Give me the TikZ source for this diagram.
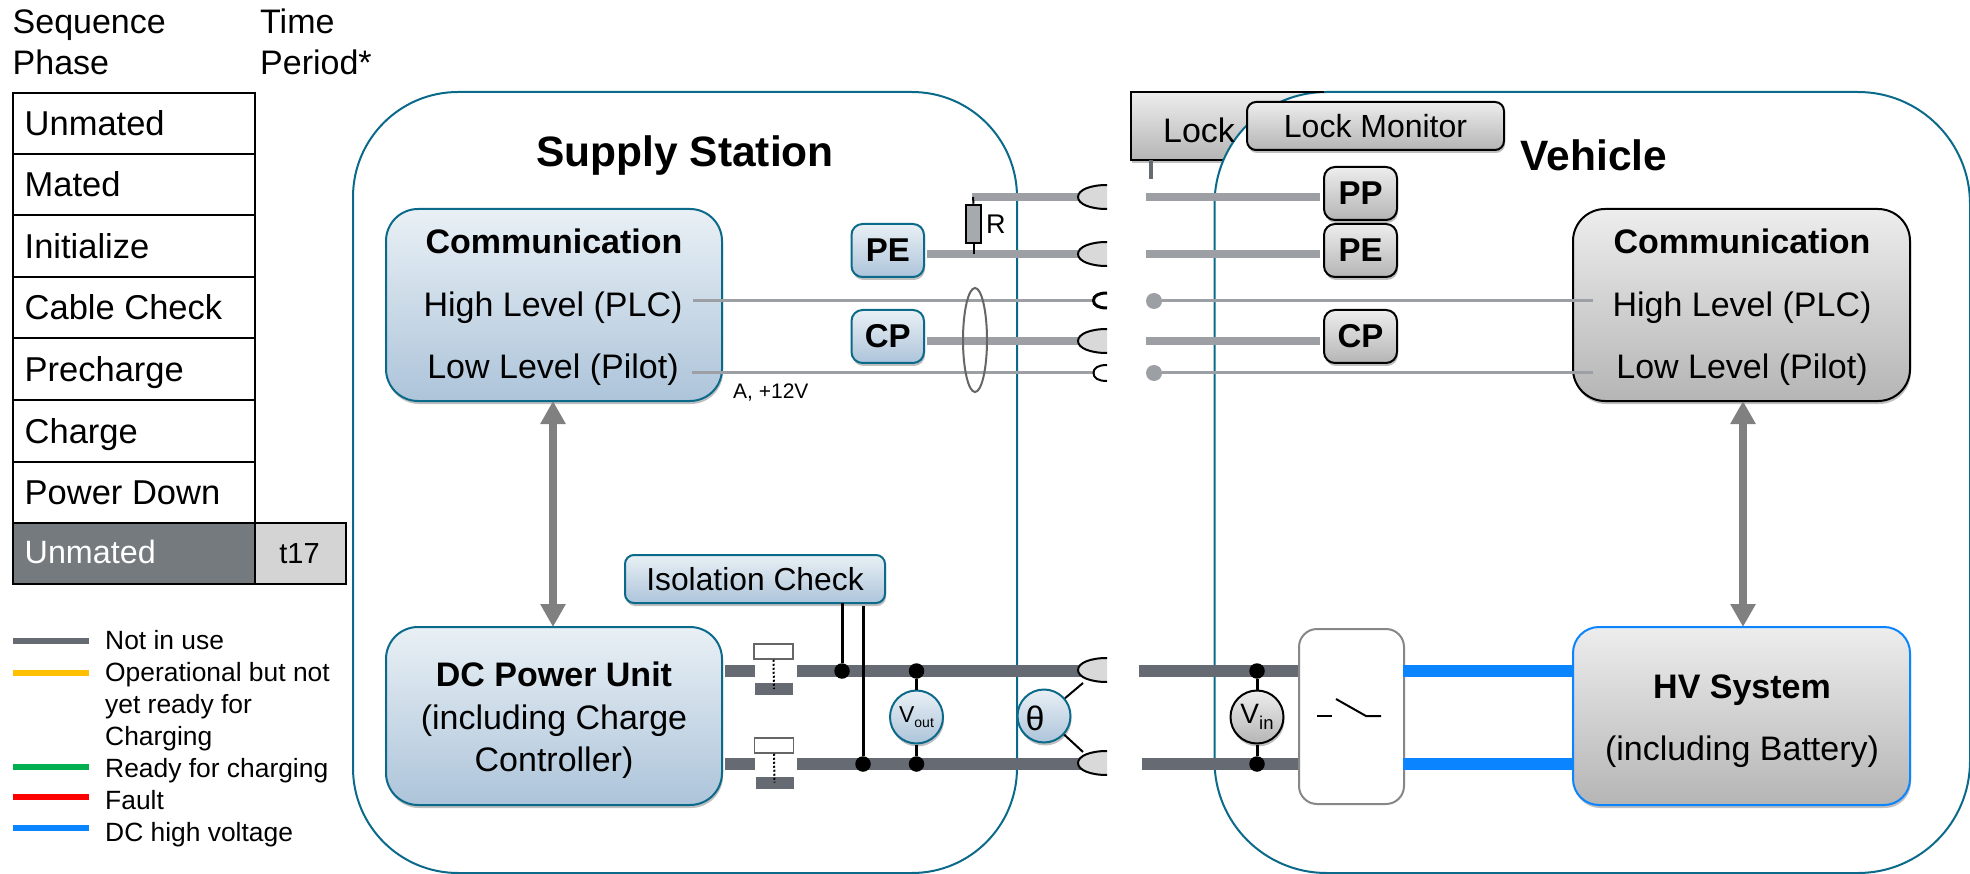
\documentclass[tikz,border=0pt]{standalone}
\usepackage{fontspec}
\setmainfont{Liberation Sans}
\usetikzlibrary{shadows,arrows.meta,calc,shapes.geometric}
\definecolor{teal}{HTML}{0B6A8A}
\definecolor{wire}{HTML}{9C9FA4}
\definecolor{power}{HTML}{666A72}
\definecolor{hv}{HTML}{0A84FF}
\definecolor{bluetop}{HTML}{E9F0F5}
\definecolor{bluebot}{HTML}{ADC4DA}
\definecolor{greytop}{HTML}{EDEDED}
\definecolor{greybot}{HTML}{B5B5B5}
\definecolor{rowgrey}{HTML}{747A7D}
\definecolor{legy}{HTML}{FFC000}
\definecolor{legg}{HTML}{00B050}
\definecolor{legr}{HTML}{FF0000}
\definecolor{arrowgrey}{HTML}{808080}
\newcommand{\fs}[1]{\fontsize{#1}{#1}\selectfont}
\newcommand{\dn}[1]{\raisebox{-1.2pt}{#1}}
\tikzset{
 x=1pt,y=-1pt,
 shad/.style={drop shadow={shadow xshift=1pt,shadow yshift=-3pt,opacity=.25,fill=black}},
 boxbase/.style={anchor=north west,inner sep=0,outer sep=0,line width=2pt,rounded corners=#1,shad},
 bluebox/.style={boxbase=#1,draw=teal,top color=bluetop,bottom color=bluebot},
 greybox/.style={boxbase=#1,draw=black,top color=greytop,bottom color=greybot},
 hvbox/.style={boxbase=#1,draw=hv,top color=greytop,bottom color=greybot},
 area/.style={draw=teal,line width=2pt,fill=white,rounded corners=#1},
 wirethick/.style={draw=wire,line width=8pt},
 wirethin/.style={draw=wire,line width=3pt},
 powerline/.style={draw=power,line width=12pt},
 hvline/.style={draw=hv,line width=12pt},
 conn/.style={draw=black,line width=2pt,fill=black!15},
 conns/.style={draw=black,line width=3pt},
 cell/.style={draw=black,line width=2pt,fill=white,minimum width=242pt,minimum height=61.5pt,anchor=north west,inner sep=0},
 celltxt/.style={anchor=base west,inner sep=0,font=\fs{34.5}},
 btxt/.style={anchor=base,inner sep=0,font=\fs{34}\bfseries},
 txt/.style={anchor=base,inner sep=0,font=\fs{34}},
 hdr/.style={anchor=base west,inner sep=0,font=\fs{34}},
 leg/.style={anchor=base west,inner sep=0,font=\fs{26.4}},
 legline/.style={line width=6pt},
 dotblk/.style={circle,fill=black,minimum size=15.5pt,inner sep=0},
 dotwire/.style={circle,fill=wire,minimum size=16pt,inner sep=0},
 bigarrow/.style={draw=arrowgrey,line width=8pt,{Triangle[length=23pt,width=24pt]}-{Triangle[length=23pt,width=24pt]}},
 meter/.style={circle,minimum size=53pt,inner sep=0,line width=2pt,shad},
 blk/.style={draw=black,line width=3pt},
}
\begin{document}
\begin{tikzpicture}
\useasboundingbox (0,0) rectangle (1970,874);
% headers
\node[hdr] (h1) at (12.5,33.5) {Sequence};
\node[hdr] (h2) at (12.5,74.5) {Phase};
\node[hdr] (h3) at (260,33.5) {Time};
\node[hdr] (h4) at (260,74.5) {Period*};
% table
\foreach \n/\y/\t in {a/92/Unmated,b/153/Mated,c/214.5/Initialize,d/276/Cable Check,e/337.5/Precharge,f/399/Charge,g/460.5/Power Down}{
 \node[cell] (c\n) at (12,\y) {};
 \node[celltxt] (t\n) at (24.5,\y+44) {\t};
}
\node[cell,fill=rowgrey,minimum height=61pt] (ch) at (12,522) {};
\node[celltxt,text=white,font=\fs{32.3}] (th) at (24.5,563) {Unmated};
\node[draw=black,line width=2pt,fill=black!17,minimum width=90.5pt,minimum height=61pt,anchor=north west,inner sep=0] (t17) at (254,522) {};
\node[anchor=base,inner sep=0,font=\fs{29}] (t17t) at (299.5,563) {t17};
% legend
\foreach \n/\y/\c in {l/641/power,m/673/legy,n/767/legg,o/797/legr,p/828/hv}{
 \coordinate (\n a) at (13,\y); \coordinate (\n b) at (89,\y);
 \draw[legline,\c] (\n a) -- (\n b);
}
\node[leg] (la) at (105,649) {Not in use};
\node[leg] (lb) at (105,681) {Operational but not};
\node[leg] (lc) at (105,713) {yet ready for};
\node[leg] (ld) at (105,745) {Charging};
\node[leg] (le) at (105,777) {Ready for charging};
\node[leg] (lf) at (105,809) {Fault};
\node[leg] (lg) at (105,841) {DC high voltage};
% lock behind vehicle
\node[boxbase=0pt,draw=black,top color=greytop,bottom color=greybot,minimum width=193pt,minimum height=68pt] (lock) at (1131,92) {};
% areas
\draw[area=105pt] (353,92) rectangle (1017,873);
\draw[area=112pt] (1214.5,92) rectangle (1970,873);
\coordinate (lockedge) at (1324,92);
\draw[black,line width=2pt] (lock.north west) -- (lockedge);
\node[txt] (locktxt) at (1199,143) {Lock};
\coordinate (ls) at (1151,160); \coordinate (le2) at (1151,179);
\draw[draw=power,line width=4pt] (ls) -- (le2);
\node[boxbase=9pt,draw=black,top color=greytop,bottom color=greybot,minimum width=257pt,minimum height=48pt,font=\fs{32}] (lockmon) at (1247,102) {\dn{Lock Monitor}};
% titles
\node[anchor=base,inner sep=0,font=\fs{42.5}\bfseries] (ss) at (685,167) {Supply Station};
\node[anchor=base,inner sep=0,font=\fs{42.5}\bfseries] (veh) at (1594,171) {Vehicle};
% main boxes
\node[bluebox=32pt,minimum width=336pt,minimum height=192pt] (commL) at (386,209) {};
\node[btxt] (cl1) at (554,253.5) {Communication};
\node[txt] (cl2) at (553,316.5) {High Level (PLC)};
\node[txt] (cl3) at (553,378.5) {Low Level (Pilot)};
\node[bluebox=32pt,minimum width=336pt,minimum height=178pt] (dcu) at (386,627) {};
\node[btxt] (dc1) at (554,686) {DC Power Unit};
\node[txt] (dc2) at (554,729) {(including Charge};
\node[txt] (dc3) at (554,771) {Controller)};
\node[greybox=32pt,minimum width=337pt,minimum height=192pt] (commR) at (1573,209) {};
\node[btxt] (cr1) at (1742,253.5) {Communication};
\node[txt] (cr2) at (1742,316.5) {High Level (PLC)};
\node[txt] (cr3) at (1742,378.5) {Low Level (Pilot)};
\node[hvbox=26pt,minimum width=337pt,minimum height=178pt] (hvs) at (1573,627) {};
\node[btxt] (hv1) at (1742,698) {HV System};
\node[txt] (hv2) at (1742,760) {(including Battery)};
% arrows
\draw[bigarrow] ([xshift=-1pt]commL.south) -- ([xshift=-1pt]dcu.north);
\draw[bigarrow] ([xshift=1.5pt]commR.south) -- ([xshift=1.5pt]hvs.north);
% small boxes
\node[bluebox=11pt,minimum width=72.5pt,minimum height=53pt,font=\fs{33}\bfseries] (pel) at (851.5,224) {\dn{PE}};
\node[bluebox=11pt,minimum width=72.5pt,minimum height=53pt,font=\fs{33}\bfseries] (cpl) at (851.5,310) {\dn{CP}};
\node[greybox=11pt,minimum width=73pt,minimum height=53pt,font=\fs{33}\bfseries] (ppr) at (1324,167) {\dn{PP}};
\node[greybox=11pt,minimum width=73pt,minimum height=53pt,font=\fs{33}\bfseries] (per) at (1324,224) {\dn{PE}};
\node[greybox=11pt,minimum width=73pt,minimum height=53pt,font=\fs{33}\bfseries] (cpr) at (1324,310) {\dn{CP}};
\node[bluebox=9pt,minimum width=260pt,minimum height=48pt,font=\fs{31.8}] (iso) at (625,555) {\dn{Isolation Check}};
% thick signal wires, left
\coordinate (ppa) at (972,197); \coordinate (ppb) at (1085,197);
\coordinate (pea) at (927,254); \coordinate (peb) at (1085,254);
\coordinate (cpa) at (927,341); \coordinate (cpb) at (1085,341);
\draw[wirethick] (ppa) -- (ppb);
\draw[wirethick] (pea) -- (peb);
\draw[wirethick] (cpa) -- (cpb);
% thick signal wires, right
\coordinate (ppc) at (1146,197); \coordinate (ppd) at (1320,197);
\coordinate (pec) at (1146,254); \coordinate (ped) at (1320,254);
\coordinate (cpc) at (1146,341); \coordinate (cpd) at (1320,341);
\draw[wirethick] (ppc) -- (ppd);
\draw[wirethick] (pec) -- (ped);
\draw[wirethick] (cpc) -- (cpd);
% resistor
\node[draw=black,line width=2.5pt,fill=wire!90!white,minimum width=15pt,minimum height=38pt,inner sep=0] (res) at (973.5,224) {};
\coordinate (rt) at (973,197); \coordinate (rb) at (973.5,254);
\draw[black,line width=2pt] (rt) -- (res.north);
\draw[black,line width=2pt] (res.south) -- (rb);
\node[anchor=base west,inner sep=0,font=\fs{27}] (rl) at (986,234) {R};
% thin wires
\coordinate (hla) at (693,301); \coordinate (hlb) at (1095,301);
\coordinate (lla) at (692,373); \coordinate (llb) at (1095,373);
\draw[wirethin] (hla) -- (hlb);
\draw[wirethin] (lla) -- (llb);
\node[dotwire] (hd) at (1154,301) {};
\node[dotwire] (ld2) at (1154,373) {};
\coordinate (hre) at (1593,301); \coordinate (lre) at (1593,373);
\draw[wirethin] (hd) -- (hre);
\draw[wirethin] (ld2) -- (lre);
\node[anchor=base west,inner sep=0,font=\fs{21}] (a12) at (733,399) {A, +12V};
\node[draw=black!60,line width=2pt,ellipse,minimum width=24pt,minimum height=104pt,inner sep=0] (loop) at (975,340) {};
% power lines, left
\coordinate (pa1) at (725,671); \coordinate (pa2) at (755,671);
\coordinate (pb1) at (725,764); \coordinate (pb2) at (755,764);
\coordinate (pa3) at (797,671); \coordinate (pa4) at (1085,671);
\coordinate (pb3) at (797,764); \coordinate (pb4) at (1085,764);
\draw[powerline] (pa1) -- (pa2);
\draw[powerline] (pb1) -- (pb2);
\draw[powerline] (pa3) -- (pa4);
\draw[powerline] (pb3) -- (pb4);
% connector shells
\foreach \y in {197,254,341,670,763}{
 \filldraw[conn] (1107,\y-12) .. controls (1090,\y-12) and (1078,\y-7) .. (1078,\y) .. controls (1078,\y+7) and (1090,\y+12) .. (1107,\y+12);
}
\draw[conns] (1107,293) .. controls (1098,293) and (1093.5,296) .. (1093.5,300.5) .. controls (1093.5,305) and (1098,308) .. (1107,308);
\draw[black,line width=2pt] (1107,365) .. controls (1098,365) and (1093.5,368) .. (1093.5,373) .. controls (1093.5,378) and (1098,381) .. (1107,381);
% contactors
\node[draw=black!60,line width=1.5pt,fill=white,minimum width=39pt,minimum height=15pt,inner sep=0] (k1) at (773.5,651.5) {};
\node[fill=power,minimum width=38pt,minimum height=12pt,inner sep=0] (k1b) at (774,689) {};
\draw[black,line width=2pt,dotted] (k1.south) -- (k1b.center);
\node[draw=black!60,line width=1.5pt,fill=white,minimum width=39pt,minimum height=15pt,inner sep=0] (k2) at (774,745.5) {};
\node[fill=power,minimum width=38pt,minimum height=12pt,inner sep=0] (k2b) at (774.5,782.5) {};
\draw[black,line width=2pt,dotted] (k2.south) -- (k2b.center);
% isolation check
\node[dotblk] (d1) at (842,671) {};
\node[dotblk] (d2) at (863,764) {};
\coordinate (ia) at (842,603); \coordinate (ib) at (863,606);
\draw[blk] (ia) -- (d1);
\draw[blk] (ib) -- (d2);
% Vout
\node[dotblk] (d3) at (916.5,671) {};
\node[dotblk] (d4) at (916.5,764) {};
\node[meter,draw=teal,top color=bluetop,bottom color=bluebot] (vout) at (916.5,717) {\fs{23}V\raisebox{-5pt}{\fs{14}out}};
\draw[blk] (d3) -- (vout);
\draw[blk] (vout) -- (d4);
% theta
\node[meter,draw=teal,top color=bluetop,bottom color=bluebot] (th1) at (1044,716) {};
\node[inner sep=0,font=\fs{34}] (th2) at (1035,718) {θ};
\coordinate (ta) at (1083,683); \coordinate (tb) at (1083,752);
\draw[black,line width=2pt] (th1) -- (ta);
\draw[black,line width=2pt] (th1) -- (tb);
% right power lines
\coordinate (qa) at (1139,671); \coordinate (qb) at (1142,764);
\node[draw=black!47,line width=2pt,fill=white,rounded corners=18pt,minimum width=105pt,minimum height=175pt,inner sep=0,anchor=north west] (sw) at (1298,628) {};
\coordinate (qa2) at (1298,671); \coordinate (qb2) at (1298,764);
\draw[powerline] (qa) -- (qa2);
\draw[powerline] (qb) -- (qb2);
\coordinate (ra) at (1403,671); \coordinate (ra2) at (1573,671);
\coordinate (rb2a) at (1403,764); \coordinate (rb2) at (1573,764);
\draw[hvline] (ra) -- (ra2);
\draw[hvline] (rb2a) -- (rb2);
% switch symbol
\coordinate (s1) at (1317,716); \coordinate (s2) at (1332,716);
\coordinate (s3) at (1336,699); \coordinate (s4) at (1366,716); \coordinate (s5) at (1381,716);
\draw[black,line width=2pt] (s1) -- (s2);
\draw[black,line width=2pt] (s3) -- (s4) -- (s5);
% Vin
\node[dotblk] (d5) at (1257,671) {};
\node[dotblk] (d6) at (1257,764) {};
\node[meter,draw=black,top color=greytop,bottom color=greybot] (vin) at (1257,717) {\fs{28}V\raisebox{-6pt}{\fs{18.5}in}};
\draw[blk] (d5) -- (vin);
\draw[blk] (vin) -- (d6);
\end{tikzpicture}
\end{document}
